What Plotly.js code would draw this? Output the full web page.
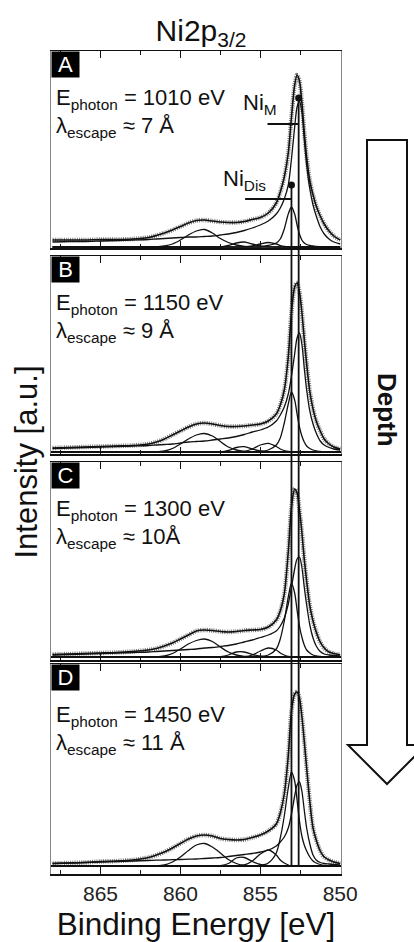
<!DOCTYPE html>
<html>
<head>
<meta charset="utf-8">
<script src="https://cdn.plot.ly/plotly-3.0.1.min.js"></script>
<style>html,body{margin:0;padding:0;background:#fff;}#chart{width:414px;height:942px;}</style>
</head>
<body>
<div id="chart"></div>
<script>
// Binding energy grid (eV)
const energy = [868, 867, 866, 865, 864, 863, 862,
  861.5, 861, 860.5, 860, 859.5, 859, 858.5, 858, 857.5, 857, 856.5, 856, 855.5, 855, 854.5, 854,
  853.75, 853.5, 853.25, 853.05, 852.85, 852.7, 852.55, 852.4, 852.25, 852.1,
  851.9, 851.7, 851.5, 851.25, 851, 850.7, 850.4, 850];

// Panel A (1010 eV)
const dataA = [7, 7, 7, 7.5, 7.5, 8, 9.5,
  11.5, 14, 17, 20.5, 24, 26.5, 27, 26, 25, 24.5, 24.5, 25.5, 27.5, 29.5, 34, 44,
  55, 70, 94, 130, 162, 172, 166, 145, 115, 90,
  66, 52, 41, 31, 23, 16, 11, 7];
const niMA = [5, 5.5, 5.5, 6, 6.5, 7, 7.5,
  8, 8.5, 9, 9.5, 10, 10, 10.5, 11, 12, 13, 14.5, 16.5, 19, 22, 26, 33,
  39, 48, 62, 88, 120, 140, 146, 135, 108, 82,
  58, 42, 31, 20, 13, 8, 5, 3];
const niDisA = [0, 0, 0, 0, 0, 0, 0,
  0, 0, 0, 0, 0, 0, 0, 0, 0, 0, 0, 0, 0, 0.2, 1.5, 4,
  8, 18, 33, 40, 33, 22, 13, 7, 4, 2.5,
  1.5, 1, 0.5, 0.2, 0, 0, 0, 0];
const satA = [0, 0, 0, 0, 0, 0, 0,
  0, 1, 3, 7, 12, 16, 17.5, 14, 8.5, 4.5, 2, 0.5, 0, 0, 0, 0,
  0, 0, 0, 0, 0, 0, 0, 0, 0, 0,
  0, 0, 0, 0, 0, 0, 0, 0];
const sat1A = [0, 0, 0, 0, 0, 0, 0,
  0, 0, 0, 0, 0, 0, 0, 0, 0, 1.5, 4, 5, 3, 1, 0.2, 0,
  0, 0, 0, 0, 0, 0, 0, 0, 0, 0,
  0, 0, 0, 0, 0, 0, 0, 0];
const sat2A = [0, 0, 0, 0, 0, 0, 0,
  0, 0, 0, 0, 0, 0, 0, 0, 0, 0, 0, 0, 1, 3, 4.5, 3,
  1.5, 0.5, 0, 0, 0, 0, 0, 0, 0, 0,
  0, 0, 0, 0, 0, 0, 0, 0];

// Panel B (1150 eV)
const dataB = [4, 4.5, 5, 5.5, 6, 6.5, 8,
  10, 13, 17, 21, 25, 28, 29, 28, 26.5, 25.5, 25.5, 26, 27, 28, 31, 38,
  47, 62, 95, 140, 165, 169, 160, 140, 113, 88,
  60, 43, 31, 21, 13, 8, 5, 3];
const niMB = [3.5, 4, 4.5, 5, 5.5, 6, 6.5,
  7, 7.5, 8, 9, 10, 10.5, 11, 12, 13, 14, 15.5, 17.5, 20, 22, 25, 31,
  37, 45, 58, 76, 98, 114, 119, 108, 84, 62,
  41, 28, 19, 11, 7, 4.5, 3, 2];
const niDisB = [0, 0, 0, 0, 0, 0, 0,
  0, 0, 0, 0, 0, 0, 0, 0, 0, 0, 0, 0, 0, 0.5, 2, 7,
  14, 29, 48, 60, 52, 38, 25, 16, 10, 6,
  3.5, 2, 1, 0.5, 0, 0, 0, 0];
const satB = [0, 0, 0, 0, 0, 0, 0,
  0, 1, 3.5, 8, 13, 17, 18.5, 16, 10.5, 5, 2, 0.5, 0, 0, 0, 0,
  0, 0, 0, 0, 0, 0, 0, 0, 0, 0,
  0, 0, 0, 0, 0, 0, 0, 0];
const sat1B = [0, 0, 0, 0, 0, 0, 0,
  0, 0, 0, 0, 0, 0, 0, 0, 0, 1.5, 4.5, 5.3, 3, 1, 0.2, 0,
  0, 0, 0, 0, 0, 0, 0, 0, 0, 0,
  0, 0, 0, 0, 0, 0, 0, 0];
const sat2B = [0, 0, 0, 0, 0, 0, 0,
  0, 0, 0, 0, 0, 0, 0, 0, 0, 0, 0, 0.5, 3, 7, 8.7, 5.5,
  3, 1.5, 0.5, 0, 0, 0, 0, 0, 0, 0,
  0, 0, 0, 0, 0, 0, 0, 0];

// Panel C (1300 eV)
const dataC = [2.5, 3, 3.5, 4, 4.5, 5.5, 7,
  8.5, 11, 14, 18, 22, 26, 27, 26.5, 25.5, 25, 25.5, 26.5, 27, 27.5, 30, 37,
  46, 63, 105, 150, 168, 164, 147, 125, 98, 76,
  51, 36, 25, 15, 9, 5, 3.5, 2];
const niMC = [2, 2.5, 3, 3.5, 4, 4.5, 5,
  5.5, 6, 6.5, 7, 7.5, 8, 9, 9.5, 10.5, 11.5, 13, 15, 17, 19.5, 22, 26,
  31, 39, 53, 70, 88, 98, 100, 90, 70, 52,
  32, 19, 11, 5.5, 3, 2, 1.5, 1];
const niDisC = [0, 0, 0, 0, 0, 0, 0,
  0, 0, 0, 0, 0, 0, 0, 0, 0, 0, 0, 0, 0, 0.5, 2, 8,
  18, 36, 60, 74, 64, 47, 31, 20, 12, 7,
  4, 2, 1, 0.5, 0, 0, 0, 0];
const satC = [0, 0, 0, 0, 0, 0, 0,
  0, 1, 3.5, 8, 13, 16.5, 18, 15.5, 10, 5, 2, 0.5, 0, 0, 0, 0,
  0, 0, 0, 0, 0, 0, 0, 0, 0, 0,
  0, 0, 0, 0, 0, 0, 0, 0];
const sat1C = [0, 0, 0, 0, 0, 0, 0,
  0, 0, 0, 0, 0, 0, 0, 0, 0.3, 2, 5, 5, 2.5, 0.8, 0, 0,
  0, 0, 0, 0, 0, 0, 0, 0, 0, 0,
  0, 0, 0, 0, 0, 0, 0, 0];
const sat2C = [0, 0, 0, 0, 0, 0, 0,
  0, 0, 0, 0, 0, 0, 0, 0, 0, 0, 0, 0.3, 2, 6, 9, 7,
  4, 2, 0.5, 0, 0, 0, 0, 0, 0, 0,
  0, 0, 0, 0, 0, 0, 0, 0];

// Panel D (1450 eV)
const dataD = [2.5, 3, 3.5, 4.5, 5, 6, 8.5,
  11, 14, 18, 22.5, 27, 30, 31, 30, 27.5, 26.5, 26, 26.5, 28.5, 31, 35, 42,
  53, 72, 110, 155, 172, 174, 168, 150, 125, 98,
  64, 38, 26, 15, 9, 6, 4, 2.5];
const niMD = [2.5, 3, 3.5, 4, 4.5, 5, 5.5,
  5.8, 6, 6.3, 6.5, 6.8, 7, 7.5, 8, 8.5, 9.5, 10.5, 11.5, 12.5, 14, 16, 20,
  24, 29, 38, 52, 70, 81, 84, 75, 56, 38,
  22, 11, 6, 3.5, 2.5, 2, 1.5, 1];
const niDisD = [0, 0, 0, 0, 0, 0, 0,
  0, 0, 0, 0, 0, 0, 0, 0, 0, 0, 0, 0, 0, 0.5, 3, 13,
  28, 50, 78, 94, 85, 66, 45, 30, 21, 15,
  9, 5, 3, 1.5, 0.5, 0, 0, 0];
const satD = [0, 0, 0, 0, 0, 0, 0,
  0, 1, 4, 9, 15.5, 21, 22.5, 19, 13, 6.5, 2.5, 0.5, 0, 0, 0, 0,
  0, 0, 0, 0, 0, 0, 0, 0, 0, 0,
  0, 0, 0, 0, 0, 0, 0, 0];
const sat1D = [0, 0, 0, 0, 0, 0, 0,
  0, 0, 0, 0, 0, 0, 0, 0, 0.3, 2.5, 8, 8.5, 4.5, 1.5, 0.3, 0,
  0, 0, 0, 0, 0, 0, 0, 0, 0, 0,
  0, 0, 0, 0, 0, 0, 0, 0];
const sat2D = [0, 0, 0, 0, 0, 0, 0,
  0, 0, 0, 0, 0, 0, 0, 0, 0, 0, 0.3, 1, 5, 12, 16, 11,
  6, 3, 1, 0, 0, 0, 0, 0, 0, 0,
  0, 0, 0, 0, 0, 0, 0, 0];

// Reference peak positions and label markers (panel A)
const peakEnergies = [852.6, 853.05];        // Ni_M, Ni_Dis
const peakMarkerHeights = [149, 62];          // dots on top of the vertical lines (panel A)
const niMLabelLineX = [854.55, 852.6];
const niMLabelLineY = [123, 123];
const niDisLabelLineX = [855.95, 853.05];
const niDisLabelLineY = [48, 48];
const peakLabels = ['Ni<sub>M</sub>', 'Ni<sub>Dis</sub>'];

// Tick labels
const tickValues = [865, 860, 855, 850];
const tickLabels = ['865', '860', '855', '850'];

// Panel text
const panelLetters = ['A', 'B', 'C', 'D'];
const photonEnergies = ['1010 eV', '1150 eV', '1300 eV', '1450 eV'];
const escapeDepths = ['7 Å', '9 Å', '10Å', '11 Å'];

// ---------- layout helpers ----------
const W = 414, H = 942;
const mL = 51, mR = 73, mT = 51, mB = 68;
const plotW = W - mL - mR, plotH = H - mT - mB;
const px2x = px => (px - mL) / plotW;
const py2y = py => (H - mB - py) / plotH;

// panel frames in pixels [top, bottom] and y ranges
const panelFrames = [[51, 248], [256, 454], [462, 660], [664, 874]];
const panelRanges = [[-1, 196], [-2, 196], [-3, 195], [-8, 202]];
const panelAxes = [['x2', 'y2'], ['x3', 'y3'], ['x4', 'y4'], ['x', 'y']];
const panelSeries = [
  [dataA, niMA, niDisA, satA, sat1A, sat2A],
  [dataB, niMB, niDisB, satB, sat1B, sat2B],
  [dataC, niMC, niDisC, satC, sat1C, sat2C],
  [dataD, niMD, niDisD, satD, sat1D, sat2D]
];

const font = 'Liberation Sans, Arial, Helvetica, sans-serif';
const traces = [];
const layout = {
  width: W, height: H,
  margin: {l: mL, r: mR, t: mT, b: mB, pad: 0},
  paper_bgcolor: '#fff', plot_bgcolor: '#fff',
  showlegend: false,
  font: {family: font, color: '#111', size: 20},
  title: {text: 'Ni2p<sub>3/2</sub>', font: {size: 30, color: '#111'},
          x: px2x(201), xref: 'paper', xanchor: 'center',
          y: 1 - 30 / H, yref: 'container', yanchor: 'middle'},
  annotations: [], shapes: []
};

const xRange = [868.1, 849.95];

panelFrames.forEach((fr, i) => {
  const [xa, ya] = panelAxes[i];
  const xk = 'xaxis' + xa.slice(1);
  const yk = 'yaxis' + ya.slice(1);
  const dom = [py2y(fr[1]), py2y(fr[0])];
  const isBottom = (i === 3);
  layout[xk] = {
    domain: [0, 1], anchor: ya, range: xRange, autorange: false,
    showline: true, linecolor: '#111', linewidth: 1.5, mirror: 'allticks',
    ticks: 'inside', ticklen: 7, tickwidth: 1.3, tickcolor: '#111',
    tickmode: 'array', tickvals: tickValues, ticktext: tickLabels,
    minor: {ticks: 'inside', ticklen: 4, tickwidth: 1.2, tickcolor: '#111', dtick: 2.5, tick0: 850},
    showticklabels: isBottom, tickfont: {size: 21, color: '#222'},
    showgrid: false, zeroline: false, fixedrange: true
  };
  if (isBottom) {
    layout[xk].title = {text: 'Binding Energy [eV]', font: {size: 31.5, color: '#111'}, standoff: 17};
  }
  layout[yk] = {
    domain: dom, anchor: xa, range: panelRanges[i], autorange: false,
    showline: true, linecolor: '#888', linewidth: 1, mirror: true,
    ticks: '', showticklabels: false, showgrid: false,
    zeroline: true, zerolinecolor: '#111', zerolinewidth: 1.5, fixedrange: true
  };

  const s = panelSeries[i];
  // measured data (gray dots)
  traces.push({x: energy, y: s[0], xaxis: xa, yaxis: ya, type: 'scatter', mode: 'lines',
    line: {color: '#7d7d7d', width: 4.5, dash: '1px,1.2px', shape: 'spline', smoothing: 0.8}, hoverinfo: 'skip'});
  // components
  for (let k = 1; k < s.length; k++) {
    traces.push({x: energy, y: s[k], xaxis: xa, yaxis: ya, type: 'scatter', mode: 'lines',
      line: {color: '#111', width: 1.3, shape: 'spline', smoothing: 0.8}, hoverinfo: 'skip'});
  }
  // fit envelope
  traces.push({x: energy, y: s[0], xaxis: xa, yaxis: ya, type: 'scatter', mode: 'lines',
    line: {color: '#111', width: 1.6, shape: 'spline', smoothing: 0.8}, hoverinfo: 'skip'});

  // panel letter box
  layout.annotations.push({text: panelLetters[i], xref: 'paper', yref: 'paper',
    x: 0, y: dom[1], xanchor: 'left', yanchor: 'top', showarrow: false,
    font: {size: 22, color: '#fff'}, bgcolor: '#000', width: 27, height: 25, borderpad: 0, align: 'center'});
  const off1 = isBottom ? 52 : 48, off2 = isBottom ? 80 : 76;
  layout.annotations.push({text: 'E<sub>photon</sub> = ' + photonEnergies[i], xref: 'paper', yref: 'paper',
    x: px2x(54), y: py2y(fr[0] + off1), xanchor: 'left', yanchor: 'middle', showarrow: false,
    font: {size: 22, color: '#111'}});
  layout.annotations.push({text: 'λ<sub>escape</sub> ≈ ' + escapeDepths[i], xref: 'paper', yref: 'paper',
    x: px2x(54), y: py2y(fr[0] + off2), xanchor: 'left', yanchor: 'middle', showarrow: false,
    font: {size: 22, color: '#111'}});
});

// Ni label lines and markers in panel A
traces.push({x: niMLabelLineX, y: niMLabelLineY, xaxis: 'x2', yaxis: 'y2', type: 'scatter', mode: 'lines',
  line: {color: '#111', width: 2}, hoverinfo: 'skip'});
traces.push({x: niDisLabelLineX, y: niDisLabelLineY, xaxis: 'x2', yaxis: 'y2', type: 'scatter', mode: 'lines',
  line: {color: '#111', width: 2}, hoverinfo: 'skip'});
traces.push({x: peakEnergies, y: peakMarkerHeights, xaxis: 'x2', yaxis: 'y2', type: 'scatter', mode: 'markers',
  marker: {color: '#111', size: 7}, cliponaxis: false, hoverinfo: 'skip'});

layout.annotations.push({text: peakLabels[0], xref: 'x2', yref: 'y2', x: 855.05, y: 143,
  xanchor: 'center', yanchor: 'middle', showarrow: false, font: {size: 22, color: '#111'}});
layout.annotations.push({text: peakLabels[1], xref: 'x2', yref: 'y2', x: 856.0, y: 67,
  xanchor: 'center', yanchor: 'middle', showarrow: false, font: {size: 22, color: '#111'}});

// vertical lines from markers in A down to baseline of D (paper coordinates via the axes' scales)
const toPaper = (val, i) => {
  const fr = panelFrames[i], r = panelRanges[i];
  const d0 = py2y(fr[1]), d1 = py2y(fr[0]);
  return d0 + (val - r[0]) / (r[1] - r[0]) * (d1 - d0);
};
peakEnergies.forEach((e, j) => {
  layout.shapes.push({type: 'line', xref: 'x', yref: 'paper', x0: e, x1: e,
    y0: toPaper(0, 3), y1: toPaper(peakMarkerHeights[j], 0), line: {color: '#111', width: 1.8}});
});

// y title
layout.annotations.push({text: 'Intensity [a.u.]', xref: 'paper', yref: 'paper', x: px2x(26), y: 0.5,
  xanchor: 'center', yanchor: 'middle', textangle: -90, showarrow: false, font: {size: 31, color: '#111'}});

// Depth arrow
const arrowPts = [[367, 140], [407, 140], [407, 745], [426, 745], [387, 784], [348, 745], [367, 745]];
let path = arrowPts.map((p, k) => (k ? 'L' : 'M') + px2x(p[0]).toFixed(4) + ',' + py2y(p[1]).toFixed(4)).join(' ') + ' Z';
layout.shapes.push({type: 'path', xref: 'paper', yref: 'paper', path: path,
  line: {color: '#111', width: 2}, fillcolor: '#fff'});
layout.annotations.push({text: '<b>Depth</b>', xref: 'paper', yref: 'paper', x: px2x(387), y: py2y(410),
  xanchor: 'center', yanchor: 'middle', textangle: 90, showarrow: false, font: {size: 26, color: '#111'}});

Plotly.newPlot('chart', traces, layout, {staticPlot: true, displayModeBar: false});
</script>
</body>
</html>
